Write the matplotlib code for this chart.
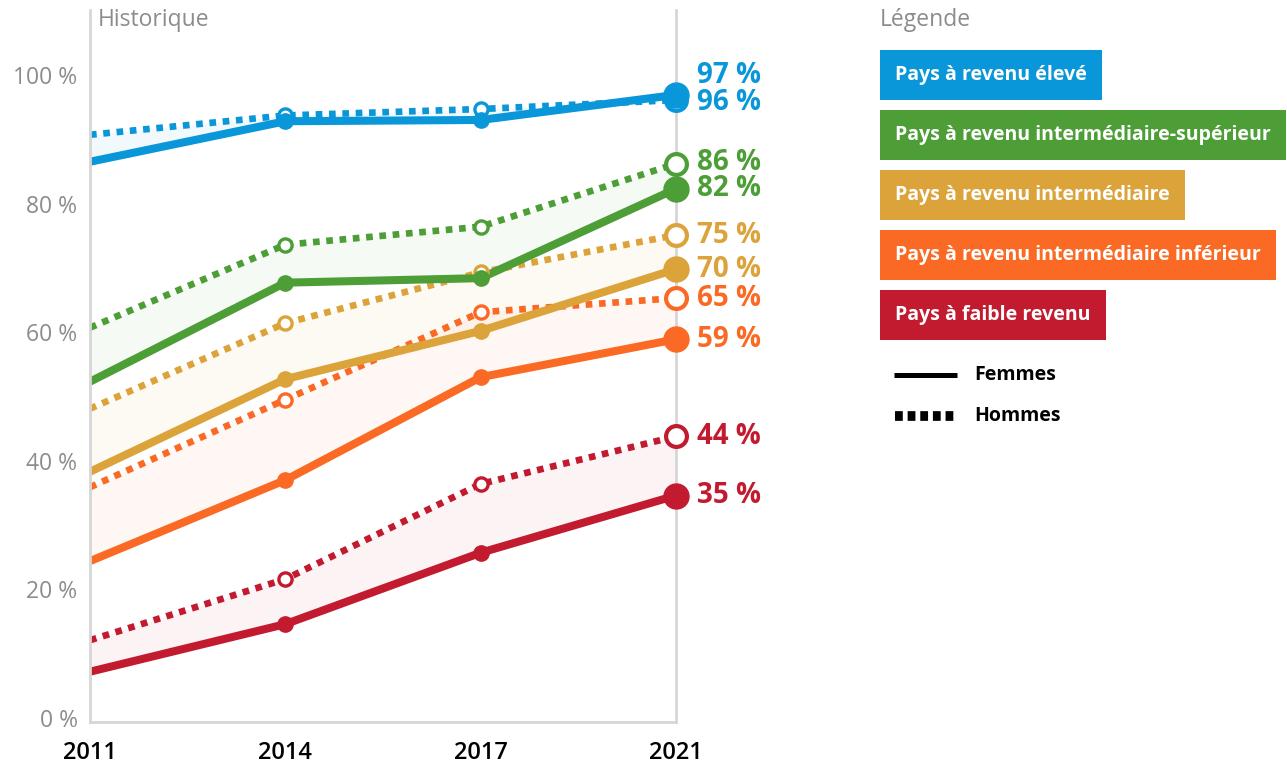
import matplotlib
matplotlib.use("Agg")
import matplotlib.pyplot as plt
from matplotlib.lines import Line2D

plt.rcParams["font.family"] = ["Open Sans", "DejaVu Sans"]

# données
annees = ["2011", "2014", "2017", "2021"]
groupes = [
    "Pays à revenu élevé",
    "Pays à revenu intermédiaire-supérieur",
    "Pays à revenu intermédiaire",
    "Pays à revenu intermédiaire inférieur",
    "Pays à faible revenu",
]
couleurs = ["#0A97D9", "#4E9E38", "#DBA33A", "#FA6A24", "#C21A2E"]

femmes_eleve = [86.5, 92.8, 93.0, 96.9]
hommes_eleve = [90.7, 93.7, 94.7, 96.1]
femmes_sup = [52.3, 67.7, 68.4, 82.3]
hommes_sup = [60.7, 73.6, 76.4, 86.2]
femmes_inter = [38.3, 52.7, 60.2, 69.8]
hommes_inter = [48.1, 61.4, 69.3, 75.1]
femmes_inf = [24.4, 37.0, 53.0, 58.9]
hommes_inf = [35.9, 49.5, 63.1, 65.3]
femmes_faible = [7.2, 14.6, 25.7, 34.6]
hommes_faible = [12.1, 21.6, 36.4, 43.8]

femmes = [femmes_eleve, femmes_sup, femmes_inter, femmes_inf, femmes_faible]
hommes = [hommes_eleve, hommes_sup, hommes_inter, hommes_inf, hommes_faible]

# décalage vertical des étiquettes (points) pour éviter le chevauchement
decal_f = [14, 0, 0, 0, 0]
decal_h = [-2, 1, 0, 0, 0]

W, H = 1287, 771
gris = "#8c8c8c"
fig = plt.figure(figsize=(W / 100, H / 100), dpi=100)
ax = fig.add_axes([90 / W, 1 - 722 / H, 586 / W, 712 / H])

x = list(range(len(annees)))

# du bas vers le haut pour que les groupes supérieurs passent devant
for i in reversed(range(len(groupes))):
    c = couleurs[i]
    f, h = femmes[i], hommes[i]
    ax.fill_between(x, f, h, color=c, alpha=0.05, lw=0, zorder=1)
    ax.plot(x, h, color=c, lw=4.8, ls=(0, (1, 1)), solid_capstyle="butt",
            dash_capstyle="butt", zorder=2)
    ax.plot(x, f, color=c, lw=5.8, solid_capstyle="butt", zorder=2)
    # marqueurs intermédiaires
    ax.plot(x[1:3], h[1:3], ls="none", marker="o", ms=9.5, mfc="white",
            mec=c, mew=2.4, zorder=3)
    ax.plot(x[1:3], f[1:3], ls="none", marker="o", ms=11, color=c, zorder=3)
    # marqueurs finaux
    ax.plot(x[-1], h[-1], ls="none", marker="o", ms=15, mfc="white",
            mec=c, mew=3, zorder=4, clip_on=False)
    ax.plot(x[-1], f[-1], ls="none", marker="o", ms=18, color=c, zorder=4,
            clip_on=False)
    for val, d in ((f[-1], decal_f[i]), (h[-1], decal_h[i])):
        ax.annotate(f"{round(val)} %", xy=(x[-1], val), xytext=(15, d),
                    textcoords="offset points", va="center", ha="left",
                    color=c, fontsize=20, fontweight="bold",
                    annotation_clip=False)

ax.set_xlim(0, 3)
ax.set_ylim(-0.62, 110.1)
ax.set_yticks(range(0, 101, 20))
ax.set_yticklabels([f"{v} %" for v in range(0, 101, 20)])
ax.set_xticks(x)
ax.set_xticklabels(annees, fontweight="semibold")
ax.tick_params(axis="y", length=0, pad=9, labelsize=16.5, labelcolor=gris)
ax.tick_params(axis="x", length=0, pad=14, labelsize=17, labelcolor="black")
for s in ["left", "right", "bottom"]:
    ax.spines[s].set_color("#d6d6d6")
    ax.spines[s].set_linewidth(2)
ax.spines["top"].set_visible(False)

fig.text(98 / W, 1 - 20 / H, "Historique", color=gris, fontsize=16.5,
         va="center", ha="left")

# légende
fig.text(880 / W, 1 - 20 / H, "Légende", color=gris, fontsize=16.5,
         va="center", ha="left")
for i, g in enumerate(groupes):
    fig.text(895 / W, 1 - (75 + 60 * i) / H, g, color="white", fontsize=14,
             fontweight="bold", va="center", ha="left",
             bbox=dict(boxstyle="square,pad=0.78", fc=couleurs[i], ec="none"))

fig.add_artist(Line2D([894 / W, 957 / W], [1 - 375 / H] * 2, color="black",
                      lw=3.6, solid_capstyle="butt"))
fig.add_artist(Line2D([895 / W, 957 / W], [1 - 416 / H] * 2, color="black",
                      lw=7, ls=(0, (0.8, 0.5)), dash_capstyle="butt"))
fig.text(974 / W, 1 - 375 / H, "Femmes", fontsize=14, fontweight="bold",
         va="center", ha="left")
fig.text(974 / W, 1 - 416 / H, "Hommes", fontsize=14, fontweight="bold",
         va="center", ha="left")

plt.savefig("out.png", dpi=100)
